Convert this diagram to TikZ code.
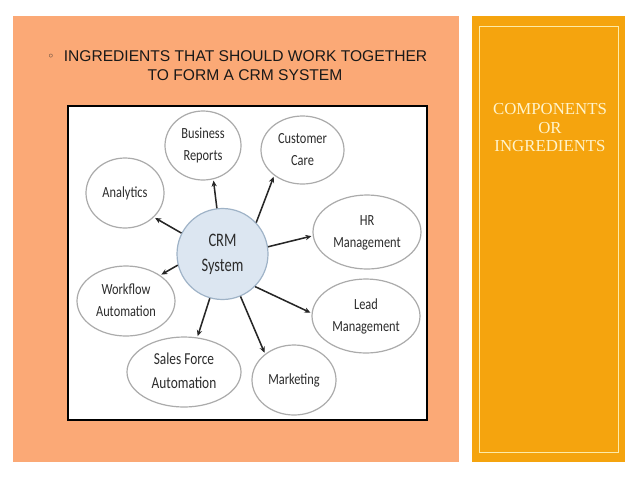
\documentclass[tikz,border=0pt]{standalone}
\usepackage{fontspec}
\setmainfont{Liberation Sans}
\newfontfamily\lblfont{Carlito}
\newfontfamily\serifpanel{Liberation Serif}
\newfontfamily\symfont{DejaVu Sans}
\usetikzlibrary{shapes.geometric,arrows.meta}
\definecolor{leftpanel}{HTML}{FBA976}
\definecolor{rightpanel}{HTML}{F5A40E}
\definecolor{panelline}{HTML}{FDEBA8}
\definecolor{paneltext}{HTML}{FFF4CC}
\definecolor{ellline}{HTML}{ABABAB}
\definecolor{crmfill}{HTML}{DCE6F1}
\definecolor{crmline}{HTML}{9FB3C7}
\definecolor{lbltext}{HTML}{2C2C2C}
\definecolor{arrcol}{HTML}{262626}
\newcommand\mylbl[1]{\scalebox{0.8}[1]{\lblfont\fontsize{11.6}{16.5}\selectfont\begin{tabular}{@{}c@{}}#1\end{tabular}}}
\newcommand\mycrm[1]{\scalebox{0.76}[1]{\lblfont\fontsize{14.3}{18.8}\selectfont\begin{tabular}{@{}c@{}}#1\end{tabular}}}
\tikzset{
  comp/.style={ellipse, draw=ellline, line width=0.9pt, fill=white, inner sep=0pt, text=lbltext},
  crmnode/.style={circle, draw=crmline, line width=0.9pt, fill=crmfill, inner sep=0pt, minimum size=68.25pt, text=lbltext},
  arr/.style={draw=arrcol, line width=1.15pt, -{Stealth[length=4.5pt,width=4pt]}, shorten >=1pt},
}
\begin{document}
\begin{tikzpicture}[x=0.75pt,y=-0.75pt]
\useasboundingbox (0,0) rectangle (638,479);
\fill[white] (0,0) rectangle (638,479);
% panels
\fill[leftpanel] (13,16) rectangle (459,462);
\fill[rightpanel] (472,16) rectangle (625,462);
\draw[panelline, line width=0.6pt] (479,26) rectangle (618,452);
% title
\node[font=\symfont\fontsize{9}{10}\selectfont, text=black!85, inner sep=0pt, anchor=base] (bul) at (51,60) {◦};
\node[font=\fontsize{11.7}{14}\selectfont, text=black!90, inner sep=0pt, anchor=base] (t1) at (245.5,61) {INGREDIENTS THAT SHOULD WORK TOGETHER};
\node[font=\fontsize{11.7}{14}\selectfont, text=black!90, inner sep=0pt, anchor=base] (t2) at (245,80) {TO FORM A CRM SYSTEM};
% right panel text
\node[font=\serifpanel\fontsize{12.6}{14}\selectfont, text=paneltext, inner sep=0pt, anchor=base] (r1) at (550,114) {COMPONENTS};
\node[font=\serifpanel\fontsize{12.6}{14}\selectfont, text=paneltext, inner sep=0pt, anchor=base] (r2) at (550,133) {OR};
\node[font=\serifpanel\fontsize{12.6}{14}\selectfont, text=paneltext, inner sep=0pt, anchor=base] (r3) at (550,151) {INGREDIENTS};
% white diagram box
\draw[black, line width=0.8pt, fill=white] (68,106) rectangle (427,420);
% nodes
\node[crmnode] (crm) at (222.5,254) {\mycrm{CRM\\System}};
\node[comp, minimum width=57pt, minimum height=51.75pt] (br) at (203,145.5) {\mylbl{Business\\Reports}};
\node[comp, minimum width=62.25pt, minimum height=51pt] (cc) at (302.5,150) {\mylbl{Customer\\Care}};
\node[comp, minimum width=58.5pt, minimum height=52.5pt] (an) at (125,193) {\mylbl{Analytics}};
\node[comp, minimum width=81pt, minimum height=55.5pt] (hr) at (367,232) {\mylbl{HR\\Management}};
\node[comp, minimum width=73.5pt, minimum height=52.5pt] (wf) at (126,301) {\mylbl{Workflow\\Automation}};
\node[comp, minimum width=81pt, minimum height=55.5pt] (lm) at (366,316) {\mylbl{Lead\\Management}};
\node[comp, minimum width=85.5pt, minimum height=52.5pt] (sf) at (184,372) {\scalebox{1.08}{\mylbl{Sales Force\\Automation}}};
\node[comp, minimum width=63pt, minimum height=52.5pt] (mk) at (294,380) {\mylbl{Marketing}};
% connectors
\draw[arr] (crm.97) -- (br.-73);
\draw[arr] (crm.43) -- (cc.222);
\draw[arr] (crm.153) -- (an.-40);
\draw[arr] (crm.9) -- (hr.184);
\draw[arr] (crm.194) -- (wf.37);
\draw[arr] (crm.-45) -- (lm.177);
\draw[arr] (crm.-106) -- (sf.69);
\draw[arr] (crm.-67) -- (mk.138);
\end{tikzpicture}
\end{document}
